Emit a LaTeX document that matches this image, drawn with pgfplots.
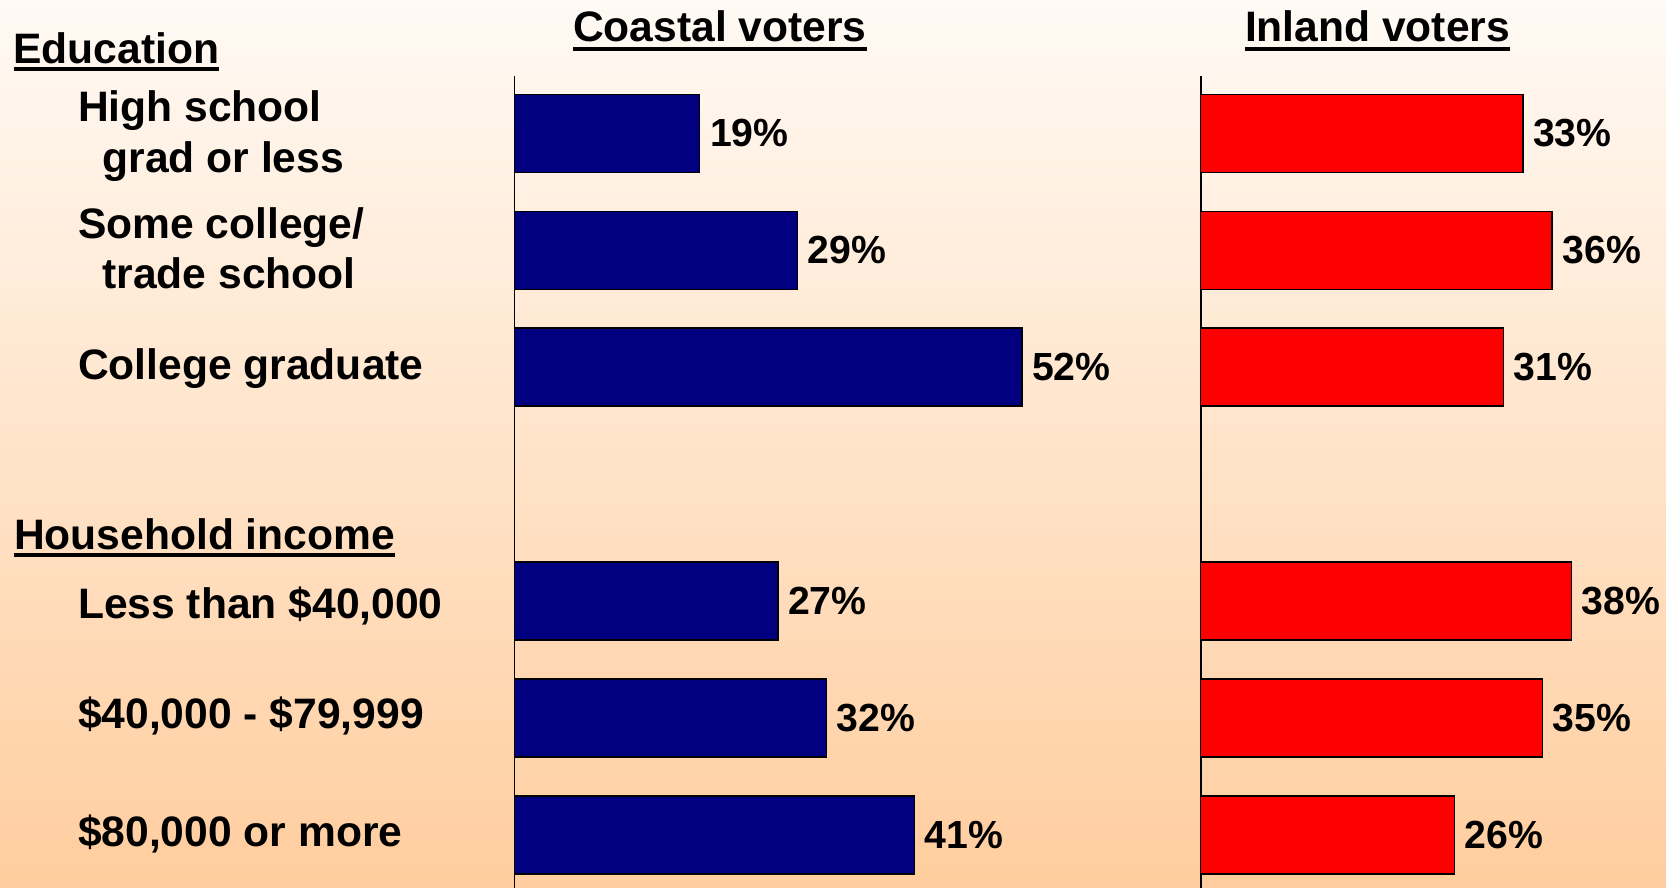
\documentclass[border=0pt]{standalone}
\usepackage{pgfplots}
\pgfplotsset{compat=1.18}
\usepackage{fontspec}
\setmainfont{Liberation Sans}
\definecolor{bgtop}{RGB}{255,250,245}
\definecolor{bgbot}{RGB}{255,205,158}
\definecolor{coastal}{RGB}{0,0,128}
\definecolor{inland}{RGB}{255,0,0}
\newcommand{\bigf}{\fontsize{21.3pt}{25pt}\selectfont\bfseries}
\newcommand{\pctf}{\fontsize{19.6pt}{23pt}\selectfont\bfseries}
\pgfplotsset{
  barpanel/.style={
    anchor=north west, scale only axis, height=406pt,
    xmin=0, ymin=-0.49, ymax=6.453, y dir=reverse,
    axis x line=none, axis y line=left,
    axis line style={-, black, line width=0.8pt},
    xtick=\empty, ytick=\empty, clip=false,
    xbar, bar width=39pt,
    point meta=x,
    /pgf/number format/assume math mode=true,
    nodes near coords={\pgfmathprintnumber{\pgfplotspointmeta}\%},
    every node near coord/.append style={font=\pctf, text=black, inner sep=0pt, xshift=4.8pt},
  }
}
\begin{document}
\begin{tikzpicture}
\useasboundingbox (0,0) rectangle (833pt,-444pt);
\shade[top color=bgtop, bottom color=bgbot] (0,0) rectangle (833pt,-444pt);
\begin{scope}[x=0.5pt,y=-0.5pt, every node/.style={inner sep=0pt, outer sep=0pt, font=\bigf, anchor=base west}]
  \node (ed) at (13.5,63.3) {Education};
  \draw[line width=2pt] ([yshift=-2.8pt]ed.base west) -- ([yshift=-2.8pt]ed.base east);
  \node at (78,122) {High school};
  \node at (102.5,172) {grad or less};
  \node at (78,238) {Some college/};
  \node at (102.5,288) {trade school};
  \node at (78,379) {College graduate};
  \node (hh) at (14,549.3) {Household income};
  \draw[line width=2pt] ([yshift=-2.7pt]hh.base west) -- ([yshift=-2.7pt]hh.base east);
  \node at (78,618.3) {Less than \$40,000};
  \node at (78,728.3) {\$40,000 - \$79,999};
  \node at (78,846.7) {\$80,000 or more};
  \node (co) at (573,41.7) {Coastal voters};
  \draw[line width=2pt] ([yshift=-3.5pt]co.base west) -- ([yshift=-3.5pt]co.base east);
  \node (in) at (1245,41.7) {Inland voters};
  \draw[line width=2pt] ([yshift=-3.5pt]in.base west) -- ([yshift=-3.5pt]in.base east);
\end{scope}
\begin{axis}[barpanel, at={(257.15pt,-38pt)}, width=292.8pt, xmax=60]
  \addplot[fill=coastal, draw=black, line width=0.75pt] coordinates {(19,0) (29,1) (52,2) (27,4) (32,5) (41,6)};
\end{axis}
\begin{axis}[barpanel, at={(600.35pt,-38pt)}, width=195.2pt, xmax=40]
  \addplot[fill=inland, draw=black, line width=0.75pt] coordinates {(33,0) (36,1) (31,2) (38,4) (35,5) (26,6)};
\end{axis}
\end{tikzpicture}
\end{document}
